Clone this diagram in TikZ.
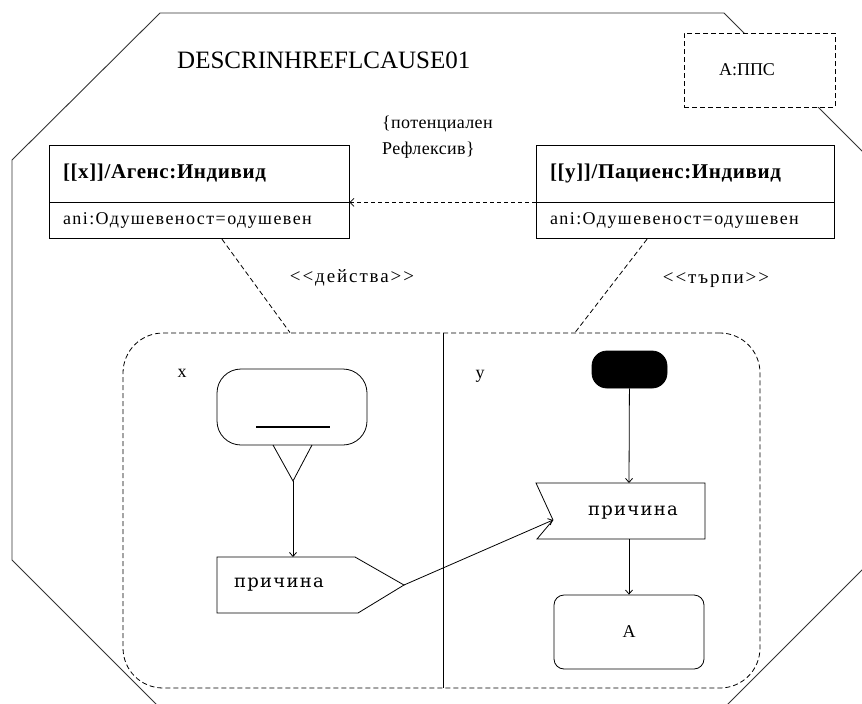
\documentclass[tikz,border=0pt]{standalone}
\usepackage{fontspec}
\setmainfont{Liberation Serif}
\newfontfamily\headfont[LetterSpace=3]{Liberation Serif}
\newfontfamily\attrfont[LetterSpace=8]{Liberation Serif}
\newfontfamily\notefont[LetterSpace=2]{Liberation Serif}
\newfontfamily\stereofont[LetterSpace=10]{Liberation Serif}
\newfontfamily\slabfont[LetterSpace=7]{DejaVu Serif}
\usetikzlibrary{arrows.meta}

\tikzset{
  frame/.style={line width=0.9pt, draw=black!80},
  thin/.style={line width=0.8pt, draw=black},
  dashline/.style={thin, dash pattern=on 5pt off 3pt},
  openarrow/.style={thin, -{Straight Barb[length=4pt,width=7pt]}},
  classhead/.style={thin, draw, fill=white, minimum width=300pt, minimum height=57pt,
    text width=272pt, align=left, inner xsep=14pt, inner ysep=0pt,
    font=\headfont\bfseries\fontsize{21}{24}\selectfont},
  classattr/.style={thin, draw, fill=white, minimum width=300pt, minimum height=36pt,
    text width=272pt, align=left, inner xsep=14pt, inner ysep=0pt,
    font=\attrfont\fontsize{18}{20}\selectfont},
  plain/.style={font=\fontsize{18}{20}\selectfont, inner sep=0pt},
  stereo/.style={font=\stereofont\fontsize{19}{22}\selectfont, inner sep=0pt},
  signaltext/.style={font=\slabfont\fontsize{18}{20}\selectfont, inner sep=0pt},
  actbox/.style={thin, draw, minimum width=150pt},
}

\begin{document}
\begin{tikzpicture}[x=1pt,y=-1pt]
\fill[white] (0,0) rectangle (862,704);
\useasboundingbox (0,0) rectangle (862,704);

% outer octagonal frame, partly running off the page
\begin{scope}
  \clip (0,0) rectangle (862,704);
  \draw[frame] (12,160) -- (160,13) -- (724,13) -- (900,189) -- (900,532)
    -- (672,760) -- (212,760) -- (12,560) -- cycle;
\end{scope}

% title and stereotype box
\node[font=\fontsize{25}{30}\selectfont, anchor=west, inner sep=0pt] (title) at (177,60) {DESCRINHREFLCAUSE01};
\node[thin, draw, fill=white, dash pattern=on 5pt off 3pt, minimum width=151pt, minimum height=74pt] (pps) at (759.5,70) {};
\node[plain] (ppslabel) at (747,70) {A:ППС};

% classifier roles
\node[classhead] (agent) at (199,173.5) {[[x]]/Агенс:Индивид};
\node[classattr, anchor=north] (agentattr) at (agent.south) {ani:Одушевеност=одушевен};
\node[classhead, minimum width=298pt, text width=270pt] (patient) at (685,173.5) {[[y]]/Пациенс:Индивид};
\node[classattr, minimum width=298pt, text width=270pt, anchor=north] (patientattr) at (patient.south) {ani:Одушевеност=одушевен};

\node[inner sep=0pt, align=left, anchor=north west, font=\notefont\fontsize{18}{26}\selectfont] (note) at (382,116) {\{потенциален\\Рефлексив\}};
\draw[thin, dash pattern=on 4pt off 3pt, -{Straight Barb[length=4pt,width=8pt]}] (patient.south west) -- (agent.south east);

% swimlane region
\node[thin, draw, dash pattern=on 5pt off 3pt, rounded corners=40pt, minimum width=637pt, minimum height=355pt] (lanes) at (441.5,510.5) {};
\coordinate (divtop) at (443,333);
\coordinate (divbot) at (443,688);
\draw[thin] (divtop) -- (divbot);

\draw[dashline] ([xshift=23pt]agentattr.south) -- ([xshift=-151.5pt]lanes.north);
\draw[dashline] ([xshift=-38pt]patientattr.south) -- ([xshift=133.5pt]lanes.north);
\node[stereo] (acts) at (352,278) {<<действа>>};
\node[stereo] (suffers) at (716,280) {<<търпи>>};

\node[plain] (xlabel) at (182,373) {x};
\node[plain] (ylabel) at (480,376) {y};

% lane x
\node[actbox, rounded corners=24pt, minimum height=76pt] (act) at (292,407) {};
\draw[line width=2.6pt] (256,427) -- (330,427);
\draw[thin] (273,445) -- (293,481) coordinate (tri) -- (312,445);
\coordinate (sendtop) at (293,557);
\draw[thin] (217,557) -- (355,557) -- (404,585) coordinate (sendtip) -- (358,613) -- (217,613) -- cycle;
\node[signaltext, anchor=west] (send) at (234,585) {причина};
\draw[openarrow] (tri) -- (sendtop);

% lane y
\node[thin, draw, fill=black, rounded corners=15pt, minimum width=75pt, minimum height=37pt] (init) at (629.5,369.5) {};
\coordinate (rectop) at (629,483);
\coordinate (recbot) at (629,539);
\draw[thin] (536,483) -- (705,483) -- (705,539) -- (537,539) -- (553,520) coordinate (notch) -- cycle;
\node[signaltext] (receive) at (633,513) {причина};
\node[actbox, rounded corners=10pt, minimum height=74pt, font=\fontsize{18}{20}\selectfont] (actA) at (629,632) {A};
\draw[openarrow] (init) -- (rectop);
\draw[openarrow] (recbot) -- (actA.north);

% signal from sender to receiver
\draw[openarrow] (sendtip) -- (notch);
\end{tikzpicture}
\end{document}
